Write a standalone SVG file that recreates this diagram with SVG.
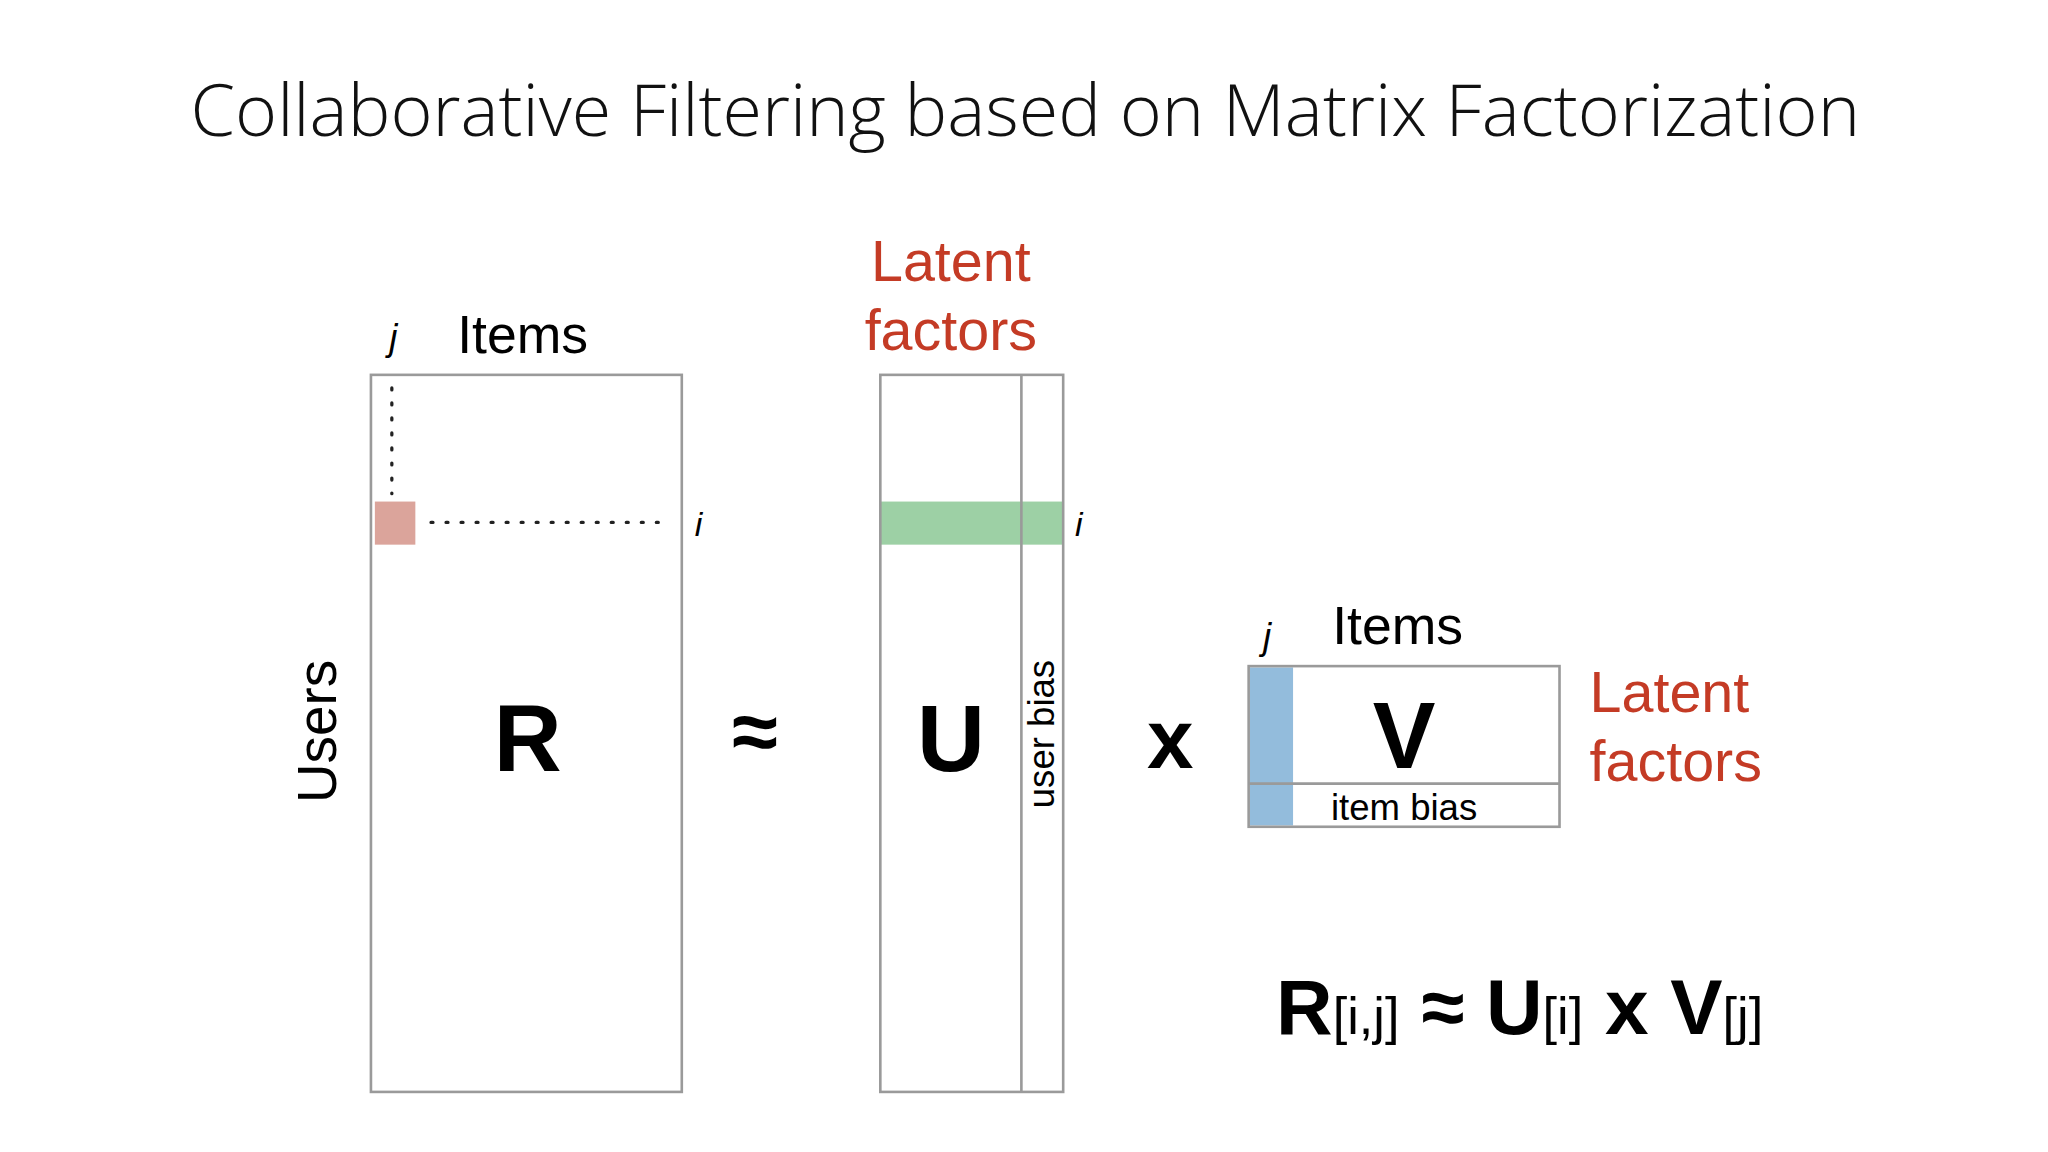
<svg xmlns="http://www.w3.org/2000/svg" width="2048" height="1152" viewBox="0 0 2048 1152">
<style>
.s{font-family:"Liberation Sans",Arial,sans-serif}
.b{font-weight:bold}
.red{fill:#c43b25}
.box{fill:none;stroke:#9a9a9a;stroke-width:2}
.dot{stroke:#222;stroke-width:2.5;stroke-dasharray:1.5 10;stroke-linecap:round}
</style>
<rect width="2048" height="1152" fill="#fff"/>
<g transform="scale(1.30612)">
<text x="785" y="104" text-anchor="middle" font-family="Open Sans, sans-serif" font-weight="300" font-size="55" fill="#111">Collaborative Filtering based on Matrix Factorization</text>
<g id="R">
<rect x="284" y="287" width="238" height="549" class="box"/>
<rect x="287" y="384" width="31" height="33" fill="#dba49b"/>
<text x="404" y="590" text-anchor="middle" class="s b" font-size="72">R</text>
<text x="298" y="268" class="s" font-style="italic" font-size="28">j</text>
<text x="350" y="270" class="s" font-size="41">Items</text>
<text x="532" y="410" class="s" font-style="italic" font-size="26">i</text>
<text transform="translate(257,560) rotate(-90)" text-anchor="middle" class="s" font-size="42">Users</text>
</g>
<g id="approx"><text x="578" y="582" text-anchor="middle" class="s b" font-size="64">≈</text></g>
<g id="U">
<rect x="674" y="384" width="140" height="33" fill="#9dd0a5"/>
<rect x="674" y="287" width="140" height="549" class="box"/>
<line x1="782" y1="287" x2="782" y2="836" class="box"/>
<text x="728" y="590" text-anchor="middle" class="s b" font-size="72">U</text>
<text transform="translate(807,562) rotate(-90)" text-anchor="middle" class="s" font-size="28">user bias</text>
<text x="823" y="410" class="s" font-style="italic" font-size="26">i</text>
<text x="728" y="215" text-anchor="middle" class="s red" font-size="44">Latent</text>
<text x="728" y="268" text-anchor="middle" class="s red" font-size="44">factors</text>
</g>
<g id="times"><text x="896" y="588" text-anchor="middle" class="s b" font-size="64">x</text></g>
<g id="V">
<rect x="957" y="511" width="33" height="121" fill="#93bcdc"/>
<rect x="956" y="510" width="238" height="123" class="box"/>
<line x1="956" y1="600" x2="1194" y2="600" class="box"/>
<text x="1075" y="588" text-anchor="middle" class="s b" font-size="72">V</text>
<text x="1075" y="628" text-anchor="middle" class="s" font-size="28">item bias</text>
<text x="967" y="497" class="s" font-style="italic" font-size="28">j</text>
<text x="1020" y="493" class="s" font-size="41">Items</text>
<text x="1217" y="545" class="s red" font-size="44">Latent</text>
<text x="1217" y="598" class="s red" font-size="44">factors</text>
</g>
<g id="connectors">
<line x1="300" y1="297" x2="300" y2="378" class="dot"/>
<line x1="330" y1="400" x2="512" y2="400" class="dot"/>
</g>
<g id="formula">
<text x="977" y="792" class="s" font-size="60"><tspan class="b">R</tspan><tspan font-size="40">[i,j]</tspan><tspan class="b"> ≈ U</tspan><tspan font-size="40">[i]</tspan><tspan class="b"> x V</tspan><tspan font-size="40">[j]</tspan></text>
</g>
</g>
</svg>
